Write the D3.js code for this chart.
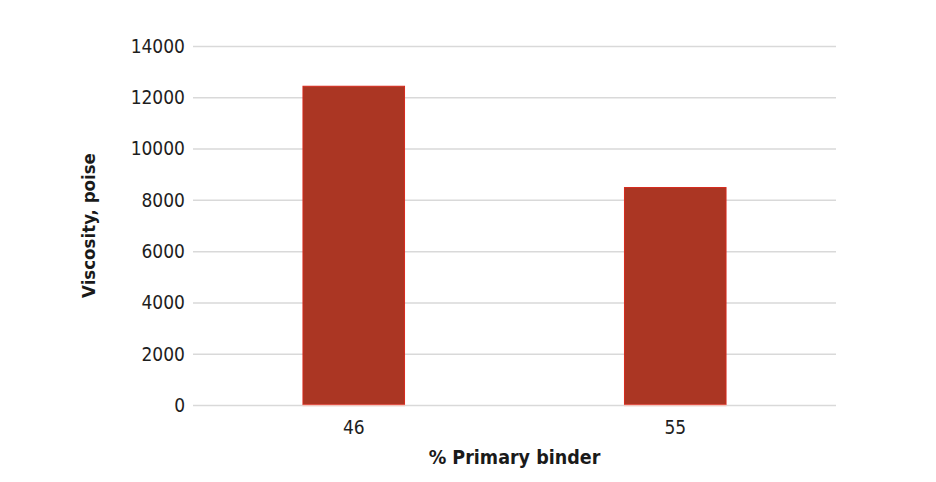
<!DOCTYPE html>
<html><head><meta charset="utf-8">
<script src="https://cdn.jsdelivr.net/npm/d3@7"></script>
<style>body{margin:0;background:#fff}svg{display:block}</style>
</head><body><svg id="c" width="936" height="482"></svg>
<script>
const categories = ["46", "55"];
const values = [12450, 8500];
const yTicks = [0, 2000, 4000, 6000, 8000, 10000, 12000, 14000];
const xTitle = "% Primary binder";
const yTitle = "Viscosity, poise";

const svg = d3.select("#c");
const m = {left:193, right:100, top:46, bottom:77};
const W = 936, H = 482;
const font = "'DejaVu Sans Condensed', 'DejaVu Sans', sans-serif";

const x = d3.scaleBand().domain(categories).range([m.left, W - m.right]).paddingInner(0.681).paddingOuter(0.3405);
const y = d3.scaleLinear().domain([0, 14000]).range([H - m.bottom, m.top]);

svg.append("g").selectAll("line").data(yTicks).join("line")
  .attr("x1", m.left).attr("x2", W - m.right)
  .attr("y1", d => y(d) + 0.5).attr("y2", d => y(d) + 0.5)
  .attr("stroke", "#d9d9d9").attr("stroke-width", 1.5);

svg.append("g").selectAll("text").data(yTicks).join("text")
  .attr("x", m.left - 8).attr("y", d => y(d)).attr("dy", "0.36em")
  .attr("text-anchor", "end").attr("font-family", font).attr("font-size", 19)
  .attr("fill", "#1e1e1e").text(d => d);

svg.append("g").selectAll("rect").data(values).join("rect")
  .attr("x", (d, i) => x(categories[i]) + 0.5)
  .attr("width", x.bandwidth() - 1)
  .attr("y", d => y(d) + 0.5)
  .attr("height", d => y(0) - y(d) - 1)
  .attr("fill", "#ab3623").attr("stroke", "#d62a1c").attr("stroke-width", 1);

svg.append("g").selectAll("line").data(categories).join("line")
  .attr("x1", d => x(d)).attr("x2", d => x(d) + x.bandwidth())
  .attr("y1", y(0) + 0.5).attr("y2", y(0) + 0.5)
  .attr("stroke", "#f0c8bf").attr("stroke-width", 1.5);

svg.append("g").selectAll("text").data(categories).join("text")
  .attr("x", d => x(d) + x.bandwidth() / 2).attr("y", y(0) + 29)
  .attr("text-anchor", "middle").attr("font-family", font).attr("font-size", 19)
  .attr("fill", "#1e1e1e").text(d => d);

svg.append("text").attr("x", (m.left + W - m.right) / 2).attr("y", 464)
  .attr("text-anchor", "middle").attr("font-family", font).attr("font-size", 19.5)
  .attr("font-weight", "bold").attr("fill", "#1a1a1a").text(xTitle);

svg.append("text").attr("transform", `translate(95, ${(m.top + H - m.bottom) / 2}) rotate(-90)`)
  .attr("text-anchor", "middle").attr("font-family", font).attr("font-size", 18.5)
  .attr("font-weight", "bold").attr("fill", "#1a1a1a").text(yTitle);
</script></body></html>
